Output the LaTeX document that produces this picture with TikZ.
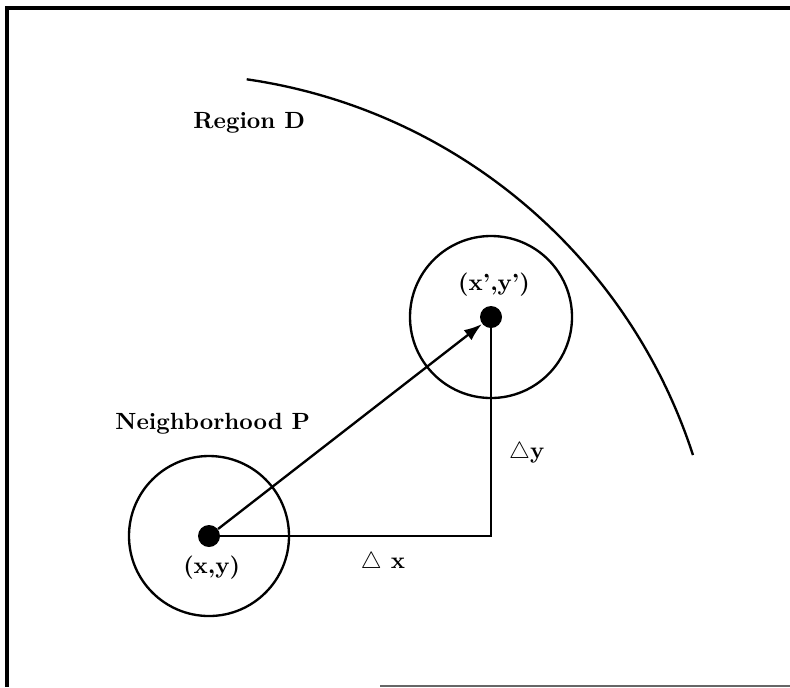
\documentclass[tikz,border=0pt]{standalone}
\usepackage{amsmath,amssymb}
\usepackage{tikz}
\usetikzlibrary{arrows.meta, positioning, calc}
\tikzset{
  frameline/.style={line width=1.3pt,color=black},
  dotnode/.style={circle,fill=black,inner sep=0pt,minimum size=0.33cm},
  nbhdnode/.style={circle,draw=black,line width=1pt,inner sep=0pt,minimum size=2.4cm},
  lbltext/.style={font=\bfseries,inner sep=0pt},
  regionarc/.style={line width=1pt,color=black},
  segline/.style={line width=1pt,color=black},
  arr/.style={-{Latex[length=2.7mm,width=1.9mm]},line width=1pt,color=black}
}
\begin{document}
\begin{tikzpicture}[x=0.015cm,y=-0.015cm]
  \useasboundingbox (0,0) rectangle (790,687);
  % outer frame (right side cut off)
  \draw[frameline] (790,8) -- (7,8) -- (7,687);
  \draw[line width=0.6pt,color=black!60] (380,686) -- (790,686);

  % points and neighborhoods
  \node[dotnode] (p) at (209,536) {};
  \node[dotnode] (q) at (491,317) {};
  \node[nbhdnode] (nbp) at (p) {};
  \node[nbhdnode,minimum size=2.43cm] (nbq) at (q) {};
  \coordinate (corner) at (q |- p);

  % boundary of region D
  \coordinate (arcstart) at (246.7,79.3);
  \draw[regionarc] (arcstart) arc[start angle=-81.8,end angle=-18,radius=552];

  % displacement
  \draw[arr] (p) -- (q);
  \draw[segline] (p) -- (corner) -- (q);

  % labels
  \node[lbltext] (lxy) at (211.7,568) {(x,y)};
  \node[lbltext] (lxyp) at (494,285) {(x',y')};
  \node[lbltext] (ldx) at (383,563) {$\triangle$ x};
  \node[lbltext] (ldy) at (526.7,453) {$\triangle$y};
  \node[lbltext,anchor=base west] (lnbh) at (115,429) {Neighborhood P};
  \node[lbltext,anchor=base west] (lreg) at (193,128) {Region D};
\end{tikzpicture}
\end{document}
